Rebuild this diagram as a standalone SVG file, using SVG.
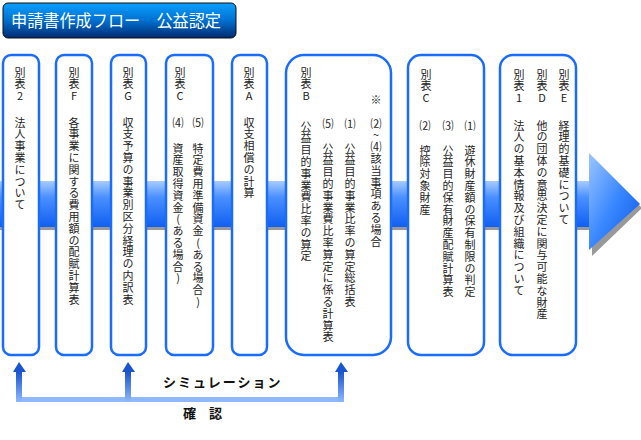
<svg xmlns="http://www.w3.org/2000/svg" width="641" height="440" viewBox="0 0 641 440">
<defs>
<linearGradient id="tg" x1="0" y1="0" x2="0" y2="1"><stop offset="0" stop-color="#0aa0ff"/><stop offset="0.5" stop-color="#0070d0"/><stop offset="1" stop-color="#002a70"/></linearGradient>
<linearGradient id="ag" x1="0" y1="0" x2="0" y2="1"><stop offset="0" stop-color="#a8ccff"/><stop offset="0.35" stop-color="#4a90ff"/><stop offset="1" stop-color="#1060f0"/></linearGradient>
<linearGradient id="hg" x1="0" y1="0" x2="1" y2="1"><stop offset="0" stop-color="#9cc6ff"/><stop offset="0.5" stop-color="#3a88ff"/><stop offset="1" stop-color="#0a55e8"/></linearGradient>
<linearGradient id="ug" x1="0" y1="0" x2="0" y2="1"><stop offset="0" stop-color="#1a55d0"/><stop offset="1" stop-color="#8fb8ff"/></linearGradient>
<style>
.box{fill:#fff;stroke:#1a6cff;stroke-width:2.5}
.v{writing-mode:vertical-rl;text-orientation:upright;font-family:"Noto Sans CJK JP","DejaVu Sans",sans-serif;font-size:11px;fill:#222;letter-spacing:0.8px}
.b{font-family:"Noto Sans CJK JP",sans-serif;font-size:13px;font-weight:bold;fill:#111}
</style>
</defs>
<rect x="3" y="3" width="233" height="35" rx="5" fill="url(#tg)" stroke="#111" stroke-width="1"/>
<text x="11" y="27" font-family="Noto Sans CJK JP,sans-serif" font-size="17" fill="#fff" textLength="210" lengthAdjust="spacingAndGlyphs">申請書作成フロー　公益認定</text>
<g id="flow-arrow">
<rect x="0" y="226" width="592" height="4" fill="#999"/>
<rect x="0" y="181" width="592" height="46" fill="url(#ag)"/>
<polygon points="590,155 640,205 590,253" fill="#999" transform="translate(2,3)"/>
<polygon points="589,153 640,204 589,250" fill="url(#hg)"/>
</g>
<g id="n1"><rect class="box" x="3" y="55" width="36" height="300" rx="8"/><text class="v" x="20" y="67">別表2</text><text class="v" x="20" y="117">法人事業について</text></g>
<g id="n2"><rect class="box" x="56" y="55" width="36" height="300" rx="8"/><text class="v" x="74" y="67">別表F</text><text class="v" x="74" y="117">各事業に関する費用額の配賦計算表</text></g>
<g id="n3"><rect class="box" x="111" y="55" width="35" height="300" rx="8"/><text class="v" x="128" y="67">別表G</text><text class="v" x="128" y="117">収支予算の事業別区分経理の内訳表</text></g>
<g id="n4"><rect class="box" x="166" y="55" width="47" height="300" rx="8"/><text class="v" x="180" y="67">別表C</text><text class="v" x="178" y="117">⑷</text><text class="v" x="178" y="143">資産取得資金(ある場合)</text><text class="v" x="198" y="117">⑸</text><text class="v" x="198" y="143">特定費用準備資金(ある場合)</text></g>
<g id="n5"><rect class="box" x="232" y="55" width="35" height="300" rx="8"/><text class="v" x="249" y="67">別表A</text><text class="v" x="249" y="117">収支相償の計算</text></g>
<g id="n6"><rect class="box" x="286" y="55" width="105" height="300" rx="18"/><text class="v" x="306" y="67">別表B</text><text class="v" x="306" y="121">公益目的事業費比率の算定</text><text class="v" x="328" y="118">⑸</text><text class="v" x="328" y="143">公益目的事業費比率算定に係る計算表</text><text class="v" x="350" y="118">⑴</text><text class="v" x="350" y="143">公益目的事業比率の算定総括表</text><text class="v" x="376" y="94">※</text><text class="v" x="376" y="118">⑵~⑷該当事項ある場合</text></g>
<g id="n7"><rect class="box" x="408" y="55" width="76" height="300" rx="13"/><text class="v" x="426" y="69">別表C</text><text class="v" x="425" y="120">⑵</text><text class="v" x="425" y="145">控除対象財産</text><text class="v" x="448" y="120">⑶</text><text class="v" x="448" y="145">公益目的保有財産配賦計算表</text><text class="v" x="470" y="120">⑴</text><text class="v" x="470" y="145">遊休財産額の保有制限の判定</text></g>
<g id="n8"><rect class="box" x="500" y="55" width="76" height="300" rx="13"/><text class="v" x="519" y="69">別表1</text><text class="v" x="519" y="120">法人の基本情報及び組織について</text><text class="v" x="542" y="69">別表D</text><text class="v" x="542" y="120">他の団体の意思決定に関与可能な財産</text><text class="v" x="564" y="69">別表E</text><text class="v" x="564" y="120">経理的基礎について</text></g>
<g id="connectors">
<rect x="16" y="397" width="328" height="5" fill="#8fb8ff"/>
<rect x="16" y="372" width="6" height="30" fill="url(#ug)"/>
<rect x="125" y="372" width="6" height="30" fill="url(#ug)"/>
<rect x="338" y="372" width="6" height="30" fill="url(#ug)"/>
<polygon points="13,372 19,362 26,372" fill="#1a55d0"/>
<polygon points="122,372 128,362 135,372" fill="#1a55d0"/>
<polygon points="335,372 341,362 348,372" fill="#1a55d0"/>
</g>
<text class="b" x="163" y="387" letter-spacing="2">シミュレーション</text>
<text class="b" x="183" y="418">確　認</text>
</svg>
